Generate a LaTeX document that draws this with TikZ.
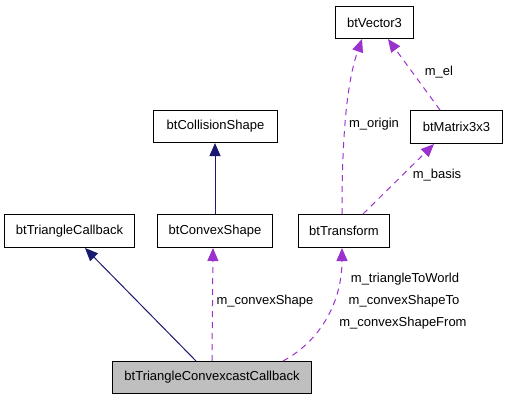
\documentclass[tikz,border=0pt]{standalone}
\usepackage{fontspec}
\setmainfont{Liberation Sans}
\usetikzlibrary{arrows.meta}
\definecolor{inh}{HTML}{191970}
\definecolor{use}{HTML}{9A32CD}
\definecolor{hl}{HTML}{BFBFBF}
\begin{document}
\begin{tikzpicture}[x=1pt,y=-1pt,
  cls/.style={draw=black,line width=1pt,fill=white,anchor=north west,inner sep=0pt,
    font=\fontsize{13}{15}\selectfont},
  lbl/.style={font=\fontsize{13}{15}\selectfont,inner sep=0pt},
  inhedge/.style={draw=inh,line width=1pt,-{Triangle[length=13pt,width=11pt]}},
  useedge/.style={draw=use,line width=1pt,dash pattern=on 6pt off 5pt,-{Triangle[length=13pt,width=11pt]}}]
\useasboundingbox (0,0) rectangle (507,400);
\node[cls,minimum width=78pt,minimum height=32pt] (vec) at (335,6) {btVector3};
\node[cls,minimum width=92pt,minimum height=33pt] (mat) at (410,110) {btMatrix3x3};
\node[cls,minimum width=124pt,minimum height=32pt] (col) at (153,110) {btCollisionShape};
\node[cls,minimum width=130pt,minimum height=33pt] (tcb) at (4,214) {btTriangleCallback};
\node[cls,minimum width=115pt,minimum height=33pt] (cvx) at (157,214) {btConvexShape};
\node[cls,minimum width=91pt,minimum height=33pt] (tr) at (298,214) {btTransform};
\node[cls,fill=hl,minimum width=199pt,minimum height=32pt] (main) at (112,361) {btTriangleConvexcastCallback};
% connector ends on the boxes
\coordinate (a1) at (main.north west -| 196,0);
\coordinate (a1t) at (tcb.south west -| 85,0);
\draw[inhedge] (a1) -- (a1t);
\coordinate (b1) at (cvx.north);
\coordinate (b1t) at (col.south -| cvx.north);
\draw[inhedge] (b1) -- (b1t);
\coordinate (c1) at (main.north west -| 212,0);
\coordinate (c1t) at (cvx.south -| 213,0);
\draw[useedge] (c1) -- (c1t);
\coordinate (d1) at (main.north west -| 283,0);
\coordinate (d1t) at (tr.south -| 342,0);
\draw[useedge] (d1) .. controls (322,340) and (342,300) .. (d1t);
\coordinate (e1) at (tr.north -| 342,0);
\coordinate (e1t) at (vec.south -| 362,0);
\draw[useedge] (e1) .. controls (342,160) and (344,90) .. (e1t);
\coordinate (f1) at (mat.north -| 440,0);
\coordinate (f1t) at (vec.south -| 388,0);
\draw[useedge] (f1) -- (f1t);
\coordinate (g1) at (tr.north -| 363,0);
\coordinate (g1t) at (mat.south -| 434,0);
\draw[useedge] (g1) -- (g1t);
\node[lbl] (l1) at (265,301) {m\_convexShape};
\node[lbl] (l2) at (405,279) {m\_triangleToWorld};
\node[lbl] (l3) at (404,301) {m\_convexShapeTo};
\node[lbl] (l4) at (403,323) {m\_convexShapeFrom};
\node[lbl] (l5) at (374,124) {m\_origin};
\node[lbl] (l6) at (439,72) {m\_el};
\node[lbl] (l7) at (437,175) {m\_basis};
\end{tikzpicture}
\end{document}
